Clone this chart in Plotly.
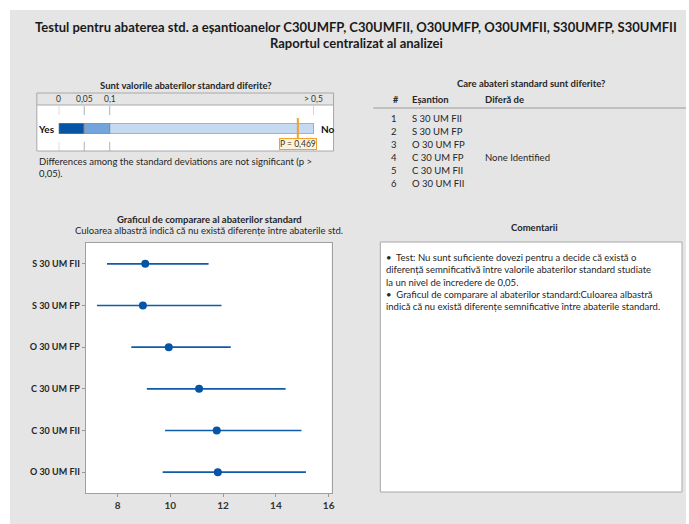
import plotly.graph_objects as go

W, H = 689, 524
FONT = "Lato"

# ---------------- data ----------------
samples = ["S 30 UM FII", "S 30 UM FP", "O 30 UM FP", "C 30 UM FP", "C 30 UM FII", "O 30 UM FII"]
stdev = [9.05, 8.96, 9.94, 11.09, 11.76, 11.80]
ci_low = [7.60, 7.22, 8.52, 9.11, 9.80, 9.71]
ci_high = [11.45, 11.94, 12.29, 14.37, 14.97, 15.14]
p_value = 0.469
p_thresholds = [0, 0.05, 0.1, 0.5]
p_tick_labels = ["0", "0,05", "0,1", "> 0,5"]
p_colors = ["#0554a5", "#73a4dc", "#c5d9f0"]
differs_from = ["", "", "", "None Identified", "", ""]
x_ticks = [8, 10, 12, 14, 16]

comment_lines = [
    "•  Test: Nu sunt suficiente dovezi pentru a decide că există o",
    "diferență semnificativă între valorile abaterilor standard studiate",
    "la un nivel de încredere de 0,05.",
    "•  Graficul de comparare al abaterilor standard:Culoarea albastră",
    "indică că nu există diferențe semnificative între abaterile standard.",
]


def px(x):
    return x / W


def py(y):
    return 1 - y / H


def pmap(p):
    # p-value display scale: linear 0..0.1, compressed 0.1..0.5
    if p <= 0.1:
        return p / 0.05
    return 2 + (p - 0.1) / 0.4 * 8


fig = go.Figure()

# p-value bar segments
for i in range(3):
    b = pmap(p_thresholds[i])
    fig.add_trace(go.Bar(
        x=[pmap(p_thresholds[i + 1]) - b], y=[0], base=[b], orientation="h", width=1,
        marker=dict(color=p_colors[i], line=dict(color="#8a8a8a", width=1)),
        xaxis="x2", yaxis="y2", showlegend=False, hoverinfo="skip",
    ))

# comparison chart
fig.add_trace(go.Scatter(
    x=stdev, y=samples, mode="markers",
    marker=dict(color="#0554a5", size=8),
    error_x=dict(type="data", symmetric=False,
                 array=[h - s for h, s in zip(ci_high, stdev)],
                 arrayminus=[s - l for s, l in zip(stdev, ci_low)],
                 width=0, thickness=1.6, color="#0f5cab"),
    xaxis="x", yaxis="y", showlegend=False,
))

shapes = []
# gray panel
shapes.append(dict(type="rect", xref="paper", yref="paper", x0=px(10), x1=px(689), y0=py(524), y1=py(10),
                   fillcolor="#e5e5e5", line=dict(width=0), layer="below"))
# p-value box
shapes.append(dict(type="rect", xref="paper", yref="paper", x0=px(37), x1=px(335), y0=py(151), y1=py(105),
                   fillcolor="white", line=dict(width=0), layer="below"))
shapes.append(dict(type="rect", xref="paper", yref="paper", x0=px(37), x1=px(335), y0=py(151), y1=py(93),
                   fillcolor="rgba(0,0,0,0)", line=dict(color="#a8a8a8", width=1), layer="below"))
shapes.append(dict(type="line", xref="paper", yref="paper", x0=px(37), x1=px(335), y0=py(105), y1=py(105),
                   line=dict(color="#a8a8a8", width=1), layer="below"))
for t in p_thresholds:
    shapes.append(dict(type="line", xref="x2", yref="paper", x0=pmap(t), x1=pmap(t), y0=py(151), y1=py(105),
                       line=dict(color="#b0b0b0", width=1, dash="dash"), layer="below"))
# p marker
shapes.append(dict(type="line", xref="x2", yref="paper", x0=pmap(p_value), x1=pmap(p_value),
                   y0=py(139), y1=py(118), line=dict(color="#f0a22e", width=2), layer="above"))
# table rule
shapes.append(dict(type="line", xref="paper", yref="paper", x0=px(375), x1=px(689), y0=py(108), y1=py(108),
                   line=dict(color="#9a9a9a", width=1), layer="below"))
# comparison plot area
shapes.append(dict(type="rect", xref="paper", yref="paper", x0=px(86), x1=px(333), y0=py(493), y1=py(243),
                   fillcolor="white", line=dict(width=0), layer="below"))
# comments box
shapes.append(dict(type="rect", xref="paper", yref="paper", x0=px(382), x1=px(685), y0=py(492), y1=py(242),
                   fillcolor="white", line=dict(color="#a8a8a8", width=1), layer="below"))

ann = []


def text(x, y, s, size=9.5, xanchor="center", yanchor="middle", weight="normal", color="#262626", **kw):
    d = dict(x=px(x), y=py(y), xref="paper", yref="paper", text=s, showarrow=False,
             xanchor=xanchor, yanchor=yanchor, align=kw.pop("align", "center"),
             font=dict(family=FONT, size=size, color=color, weight=weight))
    d.update(kw)
    ann.append(d)


# titles
text(358, 27, "Testul pentru abaterea std. a eșantioanelor C30UMFP, C30UMFII, O30UMFP, O30UMFII, S30UMFP, S30UMFII",
     size=13, weight="bold", color="#1a1a1a")
text(358, 43, "Raportul centralizat al analizei", size=13, weight="bold", color="#1a1a1a")

# p-value panel
text(187, 85, "Sunt valorile abaterilor standard diferite?", size=9.5, weight="bold")
for t, lab in zip(p_thresholds, p_tick_labels):
    ann.append(dict(x=pmap(t), y=py(99), xref="x2", yref="paper", text=lab, showarrow=False,
                    xanchor="center", yanchor="middle",
                    font=dict(family=FONT, size=8.5, color="#333333")))
text(57, 128.5, "Yes", size=10, xanchor="right", weight="bold", color="#111111")
text(320, 128.5, "No", size=10, xanchor="left", weight="bold", color="#111111")
ann.append(dict(x=pmap(p_value), y=py(143.5), xref="x2", yref="paper", text="P = 0,469", showarrow=False,
                xanchor="center", yanchor="middle", bgcolor="#fff2d6", bordercolor="#f0a22e", borderwidth=1,
                borderpad=0, font=dict(family=FONT, size=8.5, color="#333333")))
text(37, 154, "Differences among the standard deviations are not significant (p ><br>0,05).",
     size=9.5, xanchor="left", yanchor="top", align="left")

# table
text(533, 84, "Care abateri standard sunt diferite?", size=9.5, weight="bold")
text(398, 99.5, "#", size=9, weight="bold")
text(412, 99.5, "Eșantion", size=9.5, xanchor="left", weight="bold")
text(485, 99.5, "Diferă de", size=9.5, xanchor="left", weight="bold")
row_y = [118, 131, 144, 157, 170, 183]
for i, (name, diff) in enumerate(zip(samples, differs_from)):
    text(401, row_y[i], str(i + 1), size=9.5, xanchor="right")
    text(412, row_y[i], name, size=9.5, xanchor="left")
    if diff:
        text(485, row_y[i], diff, size=9.5, xanchor="left")

# comparison chart titles
text(210, 219, "Graficul de comparare al abaterilor standard", size=9.5, weight="bold")
text(210, 230.5, "Culoarea albastră indică că nu există diferențe între abaterile std.", size=9.5)

# comments
text(537, 228, "Comentarii", size=9.5, weight="bold")
text(386, 250, "<br>".join(comment_lines), size=9.5, xanchor="left", yanchor="top", align="left")

fig.update_layout(
    width=W, height=H, margin=dict(l=0, r=0, t=0, b=0),
    paper_bgcolor="white", plot_bgcolor="rgba(0,0,0,0)",
    barmode="overlay", showlegend=False,
    shapes=shapes, annotations=ann,
    font=dict(family=FONT),
    xaxis=dict(domain=[px(86), px(333)], range=[6.79, 16.11], anchor="y",
               tickvals=x_ticks, ticks="outside", ticklen=3, tickcolor="#999999",
               showgrid=False, zeroline=False, showline=True, mirror=True,
               linecolor="#a0a0a0", linewidth=1,
               tickfont=dict(family=FONT, size=10, color="#333333", weight="bold")),
    yaxis=dict(domain=[py(493), py(243)], type="category", categoryorder="array",
               categoryarray=samples, range=[5.5, -0.5], anchor="x",
               ticks="outside", ticklen=3, tickcolor="#999999",
               showgrid=False, zeroline=False, showline=True, mirror=True,
               linecolor="#a0a0a0", linewidth=1,
               tickfont=dict(family=FONT, size=9, color="#262626", weight="bold")),
    xaxis2=dict(domain=[px(59), px(315)], range=[0, 10], anchor="y2", visible=False, fixedrange=True),
    yaxis2=dict(domain=[py(134), py(123)], range=[-0.5, 0.5], anchor="x2", visible=False, fixedrange=True),
)

fig.write_html("out.html")
